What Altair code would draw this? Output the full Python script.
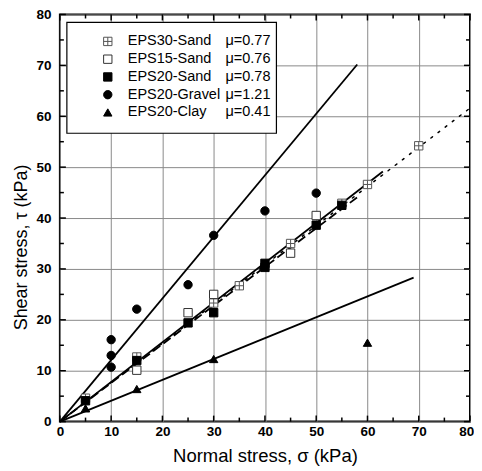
import altair as alt
import pandas as pd

# ---------------- data ----------------
sand30_x = [5, 15, 30, 35, 45, 55, 60, 70]
sand30_y = [4.6, 12.7, 23.3, 26.7, 35.0, 42.9, 46.6, 54.2]
sand15_x = [15, 25, 30, 45, 50]
sand15_y = [10.1, 21.4, 25.0, 33.1, 40.5]
sand20_x = [5, 15, 25, 30, 40, 40, 50, 55]
sand20_y = [4.1, 12.0, 19.4, 21.4, 30.3, 31.1, 38.6, 42.5]
gravel_x = [10, 10, 10, 15, 25, 30, 40, 50]
gravel_y = [16.1, 13.0, 10.7, 22.1, 26.9, 36.6, 41.4, 44.9]
clay_x = [5, 15, 30, 60]
clay_y = [2.6, 6.4, 12.3, 15.5]

series_names = ["EPS30-Sand", "EPS15-Sand", "EPS20-Sand", "EPS20-Gravel", "EPS20-Clay"]
mu_values = [0.77, 0.76, 0.78, 1.21, 0.41]
fit_x_end = [80, 58, 63, 58, 69]

major_ticks = [0, 10, 20, 30, 40, 50, 60, 70, 80]
minor_ticks = [5, 15, 25, 35, 45, 55, 65, 75]

# ---------------- styles ----------------
CROSS_SQ = "M-1,-1H1V1H-1Z M0,-1V1 M-1,0H1"
shapes = [CROSS_SQ, "square", "square", "circle", "triangle-up"]
fills = ["white", "white", "black", "black", "black"]
strokes = ["#555555", "#333333", "black", "black", "black"]
sizes = [70, 70, 75, 70, 85]
dashes = {"EPS30-Sand": [2, 7], "EPS15-Sand": [9, 4]}

W, H = 411, 408
FONT = "Liberation Sans"

# ---------------- tables ----------------
pts = []
for name, xs, ys in zip(series_names,
                        [sand30_x, sand15_x, sand20_x, gravel_x, clay_x],
                        [sand30_y, sand15_y, sand20_y, gravel_y, clay_y]):
    for x, y in zip(xs, ys):
        pts.append({"series": name, "x": x, "y": y})
pts = pd.DataFrame(pts)

xsc = alt.Scale(domain=[0, 80], nice=False, zero=False)
ysc = alt.Scale(domain=[0, 80], nice=False, zero=False)

shape_sc = alt.Scale(domain=series_names, range=shapes)
fill_sc = alt.Scale(domain=series_names, range=fills)
stroke_sc = alt.Scale(domain=series_names, range=strokes)
size_sc = alt.Scale(domain=series_names, range=sizes)

# base with axes (grid)
base = alt.Chart(pd.DataFrame({"x": [0, 80], "y": [0, 80]})).mark_point(opacity=0).encode(
    x=alt.X("x:Q", scale=xsc,
            axis=alt.Axis(values=major_ticks, title="Normal stress, σ (kPa)", grid=True,
                          domain=False, ticks=False, labelPadding=3, titlePadding=8,
                          labelFontWeight="bold", labelFontSize=13.5, titleFontSize=18.5,
                          titleFontWeight="normal", labelFont=FONT, titleFont=FONT,
                          labelColor="black", titleColor="black", gridColor="#8a8a8a",
                          labelFlush=True, labelFlushOffset=3.75)),
    y=alt.Y("y:Q", scale=ysc,
            axis=alt.Axis(values=major_ticks, title="Shear stress, τ (kPa)", grid=True,
                          domain=False, ticks=False, labelPadding=9,
                          labelFontWeight="bold", labelFontSize=13.5, titleFontSize=18,
                          titleFontWeight="normal", labelFont=FONT, titleFont=FONT,
                          labelColor="black", titleColor="black", gridColor="#8a8a8a",
                          titleX=-38, titleY=233, titleAngle=270, titleAlign="center",
                          titleBaseline="middle", labelFlush=False)),
)

layers = [base]

# fit lines
for name, mu, xe in zip(series_names, mu_values, fit_x_end):
    df = pd.DataFrame({"x": [0, xe]})
    df["y"] = mu * df["x"]
    kw = {"color": "black", "strokeWidth": 1.8}
    if name in dashes:
        kw["strokeDash"] = dashes[name]
    if name == "EPS30-Sand":
        kw["strokeWidth"] = 1.5
        kw["strokeCap"] = "round"
    layers.append(alt.Chart(df).mark_line(**kw).encode(
        x=alt.X("x:Q", scale=xsc), y=alt.Y("y:Q", scale=ysc)))

# points
points = alt.Chart(pts).mark_point(filled=False, strokeWidth=1, opacity=1).encode(
    x=alt.X("x:Q", scale=xsc),
    y=alt.Y("y:Q", scale=ysc),
    shape=alt.Shape("series:N", scale=shape_sc, legend=None),
    fill=alt.Fill("series:N", scale=fill_sc, legend=None),
    stroke=alt.Stroke("series:N", scale=stroke_sc, legend=None),
    size=alt.Size("series:N", scale=size_sc, legend=None),
)
layers.append(points)

# inward ticks on all four sides
for side in ["bottom", "top", "left", "right"]:
    for vals, ln in [(major_ticks, 6), (minor_ticks, 4)]:
        d = pd.DataFrame({"v": vals})
        if side == "bottom":
            enc = dict(x=alt.X("v:Q", scale=xsc), y=alt.value(H), y2=alt.value(H - ln))
        elif side == "top":
            enc = dict(x=alt.X("v:Q", scale=xsc), y=alt.value(0), y2=alt.value(ln))
        elif side == "left":
            enc = dict(y=alt.Y("v:Q", scale=ysc), x=alt.value(0), x2=alt.value(ln))
        else:
            enc = dict(y=alt.Y("v:Q", scale=ysc), x=alt.value(W), x2=alt.value(W - ln))
        layers.append(alt.Chart(d).mark_rule(color="black", strokeWidth=1.5).encode(**enc))

# legend (manual)
leg = pd.DataFrame({"series": series_names,
                    "mu": ["μ=%.2f" % m for m in mu_values],
                    "row": list(range(len(series_names)))})
leg_box = alt.Chart(pd.DataFrame({"a": [0]})).mark_rect(
    fill="white", stroke="black", strokeWidth=1.2).encode(
    x=alt.value(7), x2=alt.value(217), y=alt.value(8), y2=alt.value(119))
leg_base = alt.Chart(leg).transform_calculate(ly="27 + datum.row * 17.8")
leg_sym = leg_base.mark_point(filled=False, strokeWidth=1, opacity=1).encode(
    x=alt.value(48),
    y=alt.Y("ly:Q", scale=None, axis=None),
    shape=alt.Shape("series:N", scale=shape_sc, legend=None),
    fill=alt.Fill("series:N", scale=fill_sc, legend=None),
    stroke=alt.Stroke("series:N", scale=stroke_sc, legend=None),
    size=alt.Size("series:N", scale=size_sc, legend=None),
)
leg_txt = leg_base.mark_text(align="left", baseline="middle", font=FONT, fontSize=14.5,
                             color="black").encode(
    x=alt.value(68), y=alt.Y("ly:Q", scale=None, axis=None), text="series:N")
leg_mu = leg_base.mark_text(align="left", baseline="middle", font=FONT, fontSize=14.5,
                            color="black").encode(
    x=alt.value(166), y=alt.Y("ly:Q", scale=None, axis=None), text="mu:N")
layers += [leg_box, leg_sym, leg_txt, leg_mu]

chart = alt.layer(*layers).properties(
    width=W, height=H,
    autosize=alt.AutoSizeParams(type="none"),
    padding={"left": 52, "top": 6, "right": 4, "bottom": 48},
    background="white",
).configure_view(stroke="black", strokeWidth=2).configure_axis(gridWidth=1)

chart.save("out.html", embed_options={"renderer": "svg", "actions": False})
